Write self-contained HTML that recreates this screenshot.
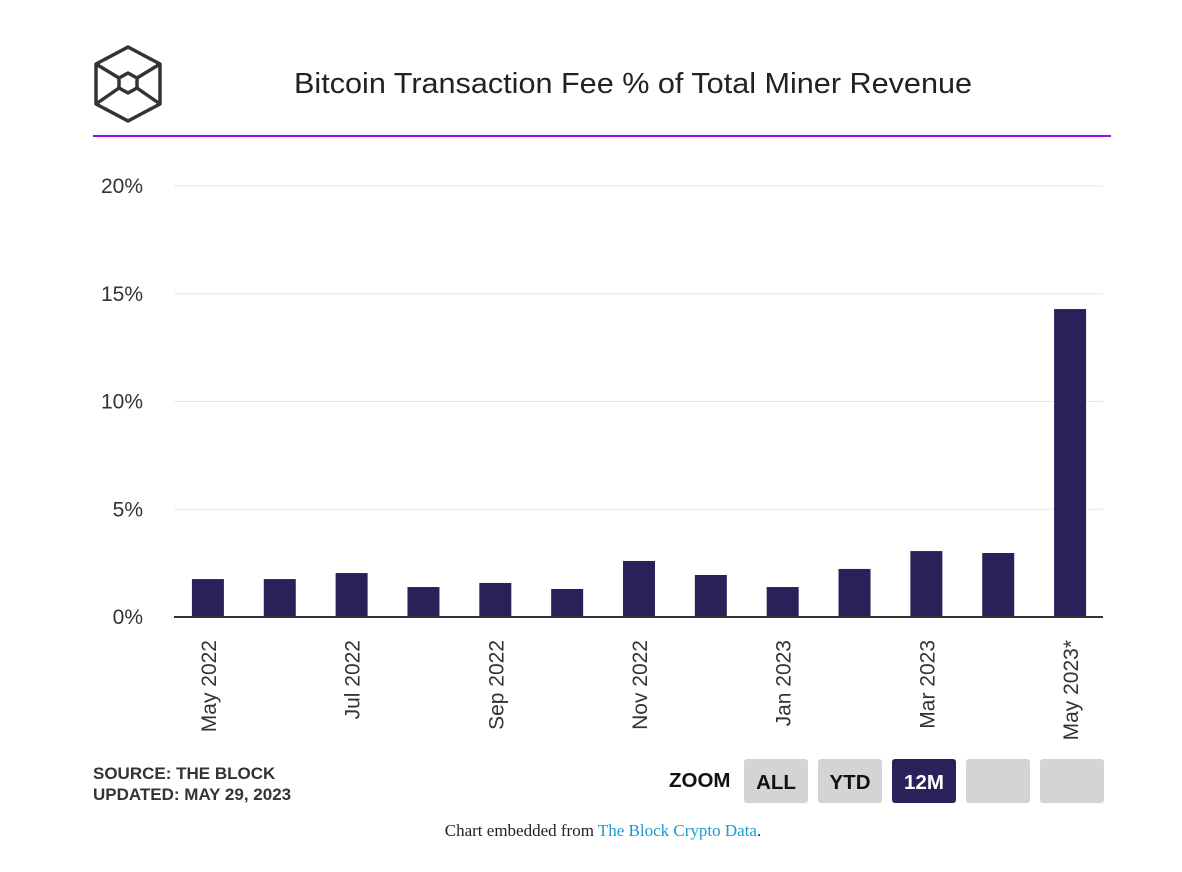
<!DOCTYPE html>
<html><head><meta charset="utf-8"><style>
html,body{margin:0;padding:0;background:#fff;width:1182px;height:872px;overflow:hidden;font-family:"Liberation Sans",sans-serif;}
svg{position:absolute;left:0;top:0}
</style></head><body>
<svg id="c" width="1182" height="872">
  <g fill="none" stroke="#333" stroke-width="3.5" stroke-linejoin="round">
    <polygon points="128,47 160,64 160,104 128,121 96,104 96,64"/>
    <polygon points="128,73 137,78 137,88 128,93 119,88 119,78"/>
    <line x1="96" y1="64" x2="119" y2="78"/>
    <line x1="160" y1="64" x2="137" y2="78"/>
    <line x1="96" y1="104" x2="119" y2="88"/>
    <line x1="160" y1="104" x2="137" y2="88"/>
  </g>
  <text x="633" y="93" text-anchor="middle" font-size="29" fill="#222" textLength="678" lengthAdjust="spacingAndGlyphs">Bitcoin Transaction Fee % of Total Miner Revenue</text>
  <rect x="93" y="135" width="1018" height="2" fill="#9b0ee0"/>
  <g id="grid"></g><g id="bars"></g><g id="xl"></g>
  <text x="93" y="779" font-size="17" font-weight="bold" fill="#333">SOURCE: THE BLOCK</text>
  <text x="93" y="800" font-size="17" font-weight="bold" fill="#333">UPDATED: MAY 29, 2023</text>
  <text x="669" y="787" font-size="20.5" font-weight="bold" fill="#111">ZOOM</text>
  <g><rect x="744" y="759" width="64" height="44" rx="3" fill="#d4d4d4"/><text x="776" y="789" text-anchor="middle" font-size="20.5" font-weight="bold" fill="#111">ALL</text></g>
  <g><rect x="818" y="759" width="64" height="44" rx="3" fill="#d4d4d4"/><text x="850" y="789" text-anchor="middle" font-size="20.5" font-weight="bold" fill="#111">YTD</text></g>
  <g><rect x="892" y="759" width="64" height="44" rx="3" fill="#2b215a"/><text x="924" y="789" text-anchor="middle" font-size="20.5" font-weight="bold" fill="#fff">12M</text></g>
  <rect x="966" y="759" width="64" height="44" rx="3" fill="#d4d4d4"/>
  <rect x="1040" y="759" width="64" height="44" rx="3" fill="#d4d4d4"/>
  <text x="603" y="836" text-anchor="middle" font-family="Liberation Serif,serif" font-size="17" fill="#222">Chart embedded from <tspan fill="#1a9bd0">The Block Crypto Data</tspan>.</text>
</svg>
<script>
const months=["May 2022","Jun 2022","Jul 2022","Aug 2022","Sep 2022","Oct 2022","Nov 2022","Dec 2022","Jan 2023","Feb 2023","Mar 2023","Apr 2023","May 2023*"];
const values=[1.76,1.76,2.04,1.39,1.58,1.30,2.60,1.95,1.39,2.23,3.06,2.97,14.29];
const yTicks=[0,5,10,15,20];
const NS="http://www.w3.org/2000/svg";
const x0=172,x1=1106,y0=617,y1=186,yMax=20;
const band=(x1-x0)/months.length;
const xC=i=>x0+band*(i+0.5);
const y=v=>y0-(v/yMax)*(y0-y1);
function mk(t,a,p){const e=document.createElementNS(NS,t);for(const k in a)e.setAttribute(k,a[k]);p.appendChild(e);return e;}
const grid=document.getElementById('grid');
yTicks.forEach(t=>{
  if(t>0){const l=mk('line',{x1:174,x2:1103,y1:y(t),y2:y(t),stroke:'#e6e6e6','stroke-width':1},grid);
  
  }
  const tx=mk('text',{x:143,y:y(t)+7,'text-anchor':'end','font-size':21,fill:'#333'},grid);
  tx.textContent=t+'%';
  
  
});
const bars=document.getElementById('bars');
values.forEach((v,i)=>{
  const r=mk('rect',{x:xC(i)-16,y:y(v),width:32,height:y0-y(v),fill:'#2b215a'},bars);
  
  
});
const ax=mk('line',{x1:174,x2:1103,y1:y0,y2:y0,stroke:'#333','stroke-width':2},bars);


const xl=document.getElementById('xl');
months.forEach((m,i)=>{
  if(i%2)return;
  const t=mk('text',{x:0,y:0,'text-anchor':'end','font-size':21,fill:'#333',transform:`translate(${xC(i)+8},640) rotate(-90)`},xl);
  t.textContent=m;
  
  
});
</script>
</body></html>
